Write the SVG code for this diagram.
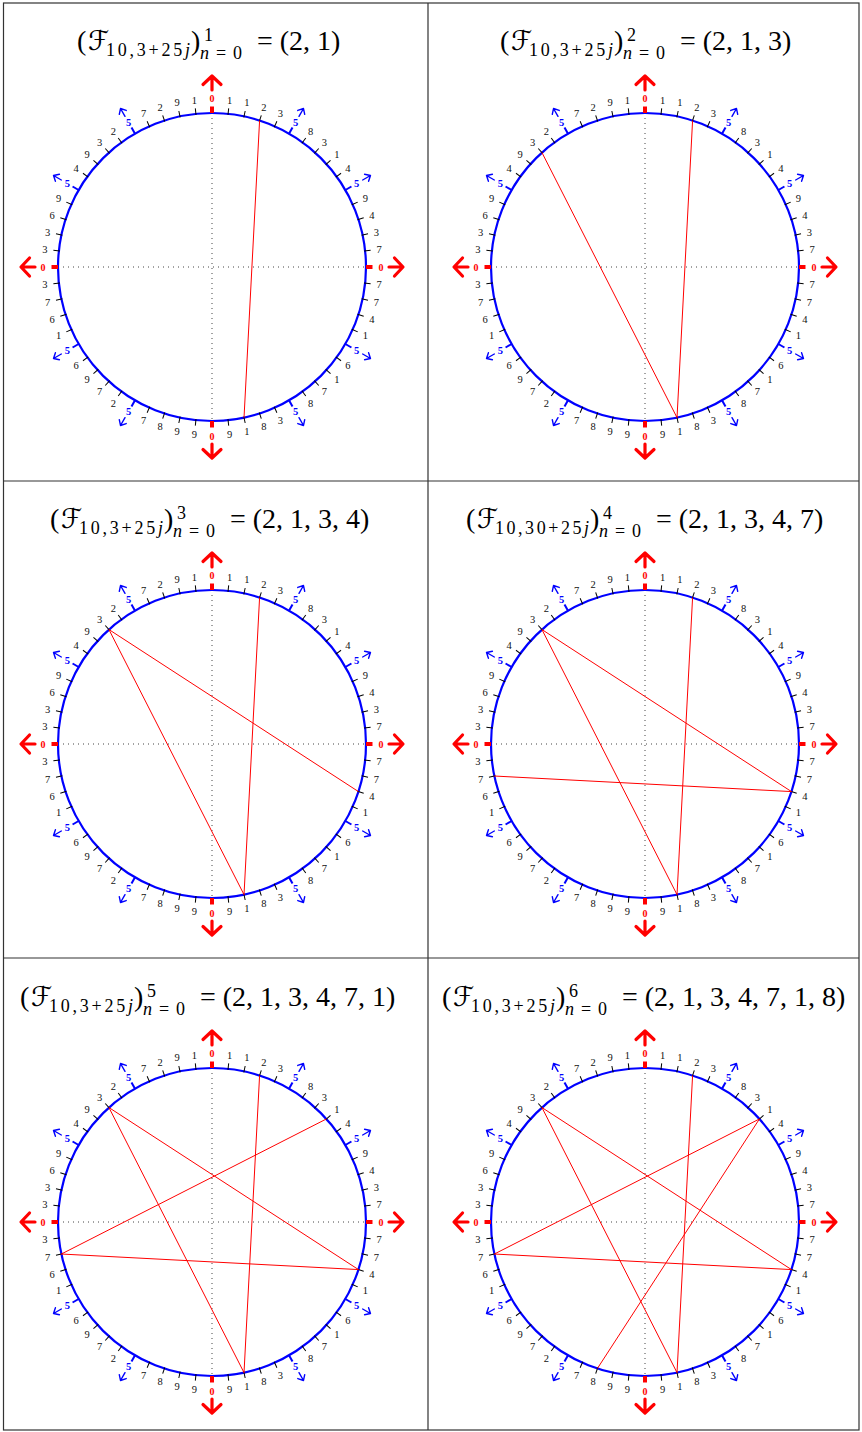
<svg xmlns="http://www.w3.org/2000/svg" width="862" height="1432" viewBox="0 0 862 1432">
<style>
text{font-family:'Liberation Serif','Times New Roman',serif}
.tk{stroke:#000;stroke-width:1}
.lb{font-size:10.5px;fill:#111;text-anchor:middle}
.b5{font-size:10.5px;font-weight:bold;fill:#00f;text-anchor:middle}
.r0{font-size:10px;font-weight:bold;fill:#f00;text-anchor:middle}
.ax{stroke:#444;stroke-width:1;stroke-dasharray:1 4;fill:none}
.ring{fill:none;stroke:#00f;stroke-width:2.2}
.seq{fill:none;stroke:#f00;stroke-width:1}
.grid{fill:none;stroke:#333;stroke-width:1.2}
.tt{font-size:28px;fill:#000}
.ts{font-size:18px;fill:#000}
text.F{font-family:'DejaVu Sans',sans-serif;font-size:27px;fill:#000}
</style>
<defs>
<line id="tk" class="tk" x1="0" y1="-153" x2="0" y2="-159.5"/>
<g id="b5m"><line x1="0" y1="-154" x2="0" y2="-161" stroke="#00f" stroke-width="2"/><path d="M0,-174V-183M-4,-178.5L0,-183L4,-178.5" stroke="#00f" stroke-width="1.4" fill="none" stroke-linecap="round" stroke-linejoin="round"/></g>
<g id="r0m"><line x1="0" y1="-154" x2="0" y2="-160.5" stroke="#f00" stroke-width="4"/><path d="M0,-177V-190M-9,-182.5L0,-191L9,-182.5" stroke="#f00" stroke-width="3.2" fill="none" stroke-linejoin="round" stroke-linecap="round"/></g>
<g id="dial" font-family="Liberation Serif, serif">
<path class="ax" d="M-154,0H154M0,-154V154"/>
<circle class="ring" r="154"/>
<use href="#tk" transform="rotate(6)"/><use href="#tk" transform="rotate(12)"/><use href="#tk" transform="rotate(18)"/><use href="#tk" transform="rotate(24)"/>
<use href="#tk" transform="rotate(36)"/><use href="#tk" transform="rotate(42)"/><use href="#tk" transform="rotate(48)"/><use href="#tk" transform="rotate(54)"/>
<use href="#tk" transform="rotate(66)"/><use href="#tk" transform="rotate(72)"/><use href="#tk" transform="rotate(78)"/><use href="#tk" transform="rotate(84)"/>
<use href="#tk" transform="rotate(96)"/><use href="#tk" transform="rotate(102)"/><use href="#tk" transform="rotate(108)"/><use href="#tk" transform="rotate(114)"/>
<use href="#tk" transform="rotate(126)"/><use href="#tk" transform="rotate(132)"/><use href="#tk" transform="rotate(138)"/><use href="#tk" transform="rotate(144)"/>
<use href="#tk" transform="rotate(156)"/><use href="#tk" transform="rotate(162)"/><use href="#tk" transform="rotate(168)"/><use href="#tk" transform="rotate(174)"/>
<use href="#tk" transform="rotate(186)"/><use href="#tk" transform="rotate(192)"/><use href="#tk" transform="rotate(198)"/><use href="#tk" transform="rotate(204)"/>
<use href="#tk" transform="rotate(216)"/><use href="#tk" transform="rotate(222)"/><use href="#tk" transform="rotate(228)"/><use href="#tk" transform="rotate(234)"/>
<use href="#tk" transform="rotate(246)"/><use href="#tk" transform="rotate(252)"/><use href="#tk" transform="rotate(258)"/><use href="#tk" transform="rotate(264)"/>
<use href="#tk" transform="rotate(276)"/><use href="#tk" transform="rotate(282)"/><use href="#tk" transform="rotate(288)"/><use href="#tk" transform="rotate(294)"/>
<use href="#tk" transform="rotate(306)"/><use href="#tk" transform="rotate(312)"/><use href="#tk" transform="rotate(318)"/><use href="#tk" transform="rotate(324)"/>
<use href="#tk" transform="rotate(336)"/><use href="#tk" transform="rotate(342)"/><use href="#tk" transform="rotate(348)"/><use href="#tk" transform="rotate(354)"/>
<text class="lb" dy="3.6" transform="rotate(6) translate(0,-168) rotate(-6)">1</text>
<text class="lb" dy="3.6" transform="rotate(12) translate(0,-168) rotate(-12)">1</text>
<text class="lb" dy="3.6" transform="rotate(18) translate(0,-168) rotate(-18)">2</text>
<text class="lb" dy="3.6" transform="rotate(24) translate(0,-168) rotate(-24)">3</text>
<text class="lb" dy="3.6" transform="rotate(36) translate(0,-168) rotate(-36)">8</text>
<text class="lb" dy="3.6" transform="rotate(42) translate(0,-168) rotate(-42)">3</text>
<text class="lb" dy="3.6" transform="rotate(48) translate(0,-168) rotate(-48)">1</text>
<text class="lb" dy="3.6" transform="rotate(54) translate(0,-168) rotate(-54)">4</text>
<text class="lb" dy="3.6" transform="rotate(66) translate(0,-168) rotate(-66)">9</text>
<text class="lb" dy="3.6" transform="rotate(72) translate(0,-168) rotate(-72)">4</text>
<text class="lb" dy="3.6" transform="rotate(78) translate(0,-168) rotate(-78)">3</text>
<text class="lb" dy="3.6" transform="rotate(84) translate(0,-168) rotate(-84)">7</text>
<text class="lb" dy="3.6" transform="rotate(96) translate(0,-168) rotate(-96)">7</text>
<text class="lb" dy="3.6" transform="rotate(102) translate(0,-168) rotate(-102)">7</text>
<text class="lb" dy="3.6" transform="rotate(108) translate(0,-168) rotate(-108)">4</text>
<text class="lb" dy="3.6" transform="rotate(114) translate(0,-168) rotate(-114)">1</text>
<text class="lb" dy="3.6" transform="rotate(126) translate(0,-168) rotate(-126)">6</text>
<text class="lb" dy="3.6" transform="rotate(132) translate(0,-168) rotate(-132)">1</text>
<text class="lb" dy="3.6" transform="rotate(138) translate(0,-168) rotate(-138)">7</text>
<text class="lb" dy="3.6" transform="rotate(144) translate(0,-168) rotate(-144)">8</text>
<text class="lb" dy="3.6" transform="rotate(156) translate(0,-168) rotate(-156)">3</text>
<text class="lb" dy="3.6" transform="rotate(162) translate(0,-168) rotate(-162)">8</text>
<text class="lb" dy="3.6" transform="rotate(168) translate(0,-168) rotate(-168)">1</text>
<text class="lb" dy="3.6" transform="rotate(174) translate(0,-168) rotate(-174)">9</text>
<text class="lb" dy="3.6" transform="rotate(186) translate(0,-168) rotate(-186)">9</text>
<text class="lb" dy="3.6" transform="rotate(192) translate(0,-168) rotate(-192)">9</text>
<text class="lb" dy="3.6" transform="rotate(198) translate(0,-168) rotate(-198)">8</text>
<text class="lb" dy="3.6" transform="rotate(204) translate(0,-168) rotate(-204)">7</text>
<text class="lb" dy="3.6" transform="rotate(216) translate(0,-168) rotate(-216)">2</text>
<text class="lb" dy="3.6" transform="rotate(222) translate(0,-168) rotate(-222)">7</text>
<text class="lb" dy="3.6" transform="rotate(228) translate(0,-168) rotate(-228)">9</text>
<text class="lb" dy="3.6" transform="rotate(234) translate(0,-168) rotate(-234)">6</text>
<text class="lb" dy="3.6" transform="rotate(246) translate(0,-168) rotate(-246)">1</text>
<text class="lb" dy="3.6" transform="rotate(252) translate(0,-168) rotate(-252)">6</text>
<text class="lb" dy="3.6" transform="rotate(258) translate(0,-168) rotate(-258)">7</text>
<text class="lb" dy="3.6" transform="rotate(264) translate(0,-168) rotate(-264)">3</text>
<text class="lb" dy="3.6" transform="rotate(276) translate(0,-168) rotate(-276)">3</text>
<text class="lb" dy="3.6" transform="rotate(282) translate(0,-168) rotate(-282)">3</text>
<text class="lb" dy="3.6" transform="rotate(288) translate(0,-168) rotate(-288)">6</text>
<text class="lb" dy="3.6" transform="rotate(294) translate(0,-168) rotate(-294)">9</text>
<text class="lb" dy="3.6" transform="rotate(306) translate(0,-168) rotate(-306)">4</text>
<text class="lb" dy="3.6" transform="rotate(312) translate(0,-168) rotate(-312)">9</text>
<text class="lb" dy="3.6" transform="rotate(318) translate(0,-168) rotate(-318)">3</text>
<text class="lb" dy="3.6" transform="rotate(324) translate(0,-168) rotate(-324)">2</text>
<text class="lb" dy="3.6" transform="rotate(336) translate(0,-168) rotate(-336)">7</text>
<text class="lb" dy="3.6" transform="rotate(342) translate(0,-168) rotate(-342)">2</text>
<text class="lb" dy="3.6" transform="rotate(348) translate(0,-168) rotate(-348)">9</text>
<text class="lb" dy="3.6" transform="rotate(354) translate(0,-168) rotate(-354)">1</text>
<g transform="rotate(30)"><use href="#b5m"/><text class="b5" dy="3.6" transform="translate(0,-167) rotate(-30)">5</text></g>
<g transform="rotate(60)"><use href="#b5m"/><text class="b5" dy="3.6" transform="translate(0,-167) rotate(-60)">5</text></g>
<g transform="rotate(120)"><use href="#b5m"/><text class="b5" dy="3.6" transform="translate(0,-167) rotate(-120)">5</text></g>
<g transform="rotate(150)"><use href="#b5m"/><text class="b5" dy="3.6" transform="translate(0,-167) rotate(-150)">5</text></g>
<g transform="rotate(210)"><use href="#b5m"/><text class="b5" dy="3.6" transform="translate(0,-167) rotate(-210)">5</text></g>
<g transform="rotate(240)"><use href="#b5m"/><text class="b5" dy="3.6" transform="translate(0,-167) rotate(-240)">5</text></g>
<g transform="rotate(300)"><use href="#b5m"/><text class="b5" dy="3.6" transform="translate(0,-167) rotate(-300)">5</text></g>
<g transform="rotate(330)"><use href="#b5m"/><text class="b5" dy="3.6" transform="translate(0,-167) rotate(-330)">5</text></g>
<g><use href="#r0m"/><text class="r0" dy="3.5" transform="translate(0,-169)">0</text></g>
<g transform="rotate(90)"><use href="#r0m"/><text class="r0" dy="3.5" transform="translate(0,-169) rotate(-90)">0</text></g>
<g transform="rotate(180)"><use href="#r0m"/><text class="r0" dy="3.5" transform="translate(0,-169) rotate(-180)">0</text></g>
<g transform="rotate(270)"><use href="#r0m"/><text class="r0" dy="3.5" transform="translate(0,-169) rotate(-270)">0</text></g>
</g>
</defs>
<rect width="862" height="1432" fill="#fff"/>
<g id="table" class="grid">
<rect x="3.5" y="3" width="855.5" height="1427"/>
<path d="M428,3V1430M3.5,481H859M3.5,958H859"/>
</g>
<g font-family="Liberation Serif, serif">
<g id="panel1"><use href="#dial" transform="translate(212,267)"/>
<g transform="translate(77,50)"><text class="tt">(</text><text class="F" x="11">ℱ</text><text class="ts" x="29" y="6" textLength="84" lengthAdjust="spacing">10,3+25<tspan font-style="italic">j</tspan></text><text class="tt" x="114">)</text><text class="ts" x="127" y="-9">1</text><text class="ts" x="123" y="9" textLength="42" lengthAdjust="spacing"><tspan font-style="italic">n</tspan>=0</text><text class="tt" x="180">= (2, 1)</text></g></g>
<g id="panel2"><use href="#dial" transform="translate(645,267)"/>
<g transform="translate(500,50)"><text class="tt">(</text><text class="F" x="11">ℱ</text><text class="ts" x="29" y="6" textLength="84" lengthAdjust="spacing">10,3+25<tspan font-style="italic">j</tspan></text><text class="tt" x="114">)</text><text class="ts" x="127" y="-9">2</text><text class="ts" x="123" y="9" textLength="42" lengthAdjust="spacing"><tspan font-style="italic">n</tspan>=0</text><text class="tt" x="180">= (2, 1, 3)</text></g></g>
<g id="panel3"><use href="#dial" transform="translate(212,744)"/>
<g transform="translate(50,528)"><text class="tt">(</text><text class="F" x="11">ℱ</text><text class="ts" x="29" y="6" textLength="84" lengthAdjust="spacing">10,3+25<tspan font-style="italic">j</tspan></text><text class="tt" x="114">)</text><text class="ts" x="127" y="-9">3</text><text class="ts" x="123" y="9" textLength="42" lengthAdjust="spacing"><tspan font-style="italic">n</tspan>=0</text><text class="tt" x="180">= (2, 1, 3, 4)</text></g></g>
<g id="panel4"><use href="#dial" transform="translate(645,744)"/>
<g transform="translate(466,528)"><text class="tt">(</text><text class="F" x="11">ℱ</text><text class="ts" x="29" y="6" textLength="94" lengthAdjust="spacing">10,30+25<tspan font-style="italic">j</tspan></text><text class="tt" x="124">)</text><text class="ts" x="137" y="-9">4</text><text class="ts" x="133" y="9" textLength="42" lengthAdjust="spacing"><tspan font-style="italic">n</tspan>=0</text><text class="tt" x="190">= (2, 1, 3, 4, 7)</text></g></g>
<g id="panel5"><use href="#dial" transform="translate(212,1222)"/>
<g transform="translate(20,1006)"><text class="tt">(</text><text class="F" x="11">ℱ</text><text class="ts" x="29" y="6" textLength="84" lengthAdjust="spacing">10,3+25<tspan font-style="italic">j</tspan></text><text class="tt" x="114">)</text><text class="ts" x="127" y="-9">5</text><text class="ts" x="123" y="9" textLength="42" lengthAdjust="spacing"><tspan font-style="italic">n</tspan>=0</text><text class="tt" x="180">= (2, 1, 3, 4, 7, 1)</text></g></g>
<g id="panel6"><use href="#dial" transform="translate(645,1222)"/>
<g transform="translate(442,1006)"><text class="tt">(</text><text class="F" x="11">ℱ</text><text class="ts" x="29" y="6" textLength="84" lengthAdjust="spacing">10,3+25<tspan font-style="italic">j</tspan></text><text class="tt" x="114">)</text><text class="ts" x="127" y="-9">6</text><text class="ts" x="123" y="9" textLength="42" lengthAdjust="spacing"><tspan font-style="italic">n</tspan>=0</text><text class="tt" x="180">= (2, 1, 3, 4, 7, 1, 8)</text></g></g>
</g>
<g id="connectors" class="seq">
<polyline transform="translate(212,267)" points="47.59,-146.46 32.02,150.63"/>
<polyline transform="translate(645,267)" points="47.59,-146.46 32.02,150.63 -103.05,-114.44"/>
<polyline transform="translate(212,744)" points="47.59,-146.46 32.02,150.63 -103.05,-114.44 146.46,47.59"/>
<polyline transform="translate(645,744)" points="47.59,-146.46 32.02,150.63 -103.05,-114.44 146.46,47.59 -150.63,32.02"/>
<polyline transform="translate(212,1222)" points="47.59,-146.46 32.02,150.63 -103.05,-114.44 146.46,47.59 -150.63,32.02 114.44,-103.05"/>
<polyline transform="translate(645,1222)" points="47.59,-146.46 32.02,150.63 -103.05,-114.44 146.46,47.59 -150.63,32.02 114.44,-103.05 -47.59,146.46"/>
</g>
</svg>
